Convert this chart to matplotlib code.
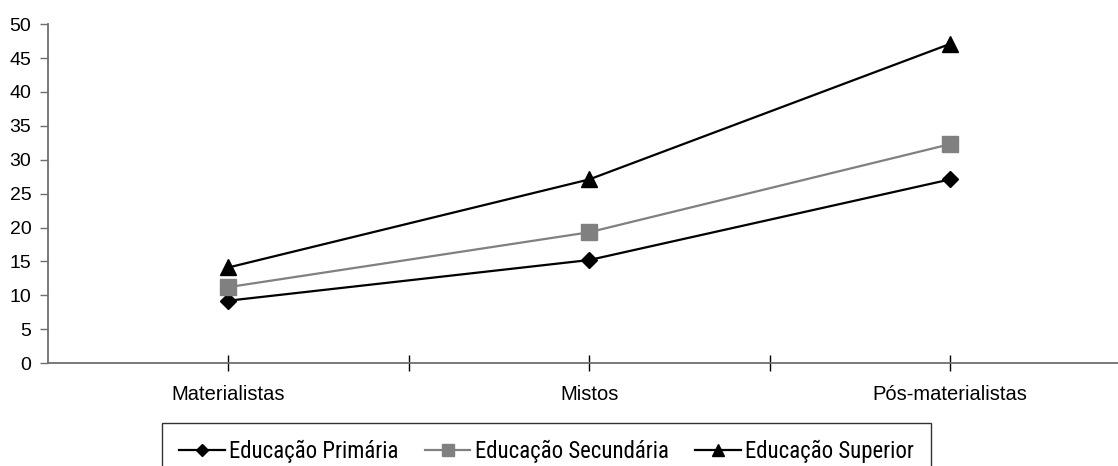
import matplotlib.pyplot as plt
from matplotlib import font_manager

categorias = ["Materialistas", "Mistos", "Pós-materialistas"]
primaria = [9.2, 15.2, 27.1]
secundaria = [11.2, 19.3, 32.3]
superior = [14.1, 27.1, 47.1]

nomes = ["Educação Primária", "Educação Secundária", "Educação Superior"]

fam = "Liberation Sans"
instaladas = {f.name for f in font_manager.fontManager.ttflist}
narrow = next((f for f in ["Roboto Condensed", "Archivo Narrow", "PT Sans Narrow"]
               if f in instaladas), fam)
plt.rcParams["font.family"] = [fam, "DejaVu Sans"]

fig = plt.figure(figsize=(11.18, 4.66), dpi=100)
ax = fig.add_axes([0.0429, 0.221, 0.9571, 0.727])

x = list(range(len(categorias)))
ax.plot(x, primaria, color="black", lw=1.6, marker="D", ms=8.6, label=nomes[0])
ax.plot(x, secundaria, color="#808080", lw=1.6, marker="s", ms=11.5, label=nomes[1])
ax.plot(x, superior, color="black", lw=1.6, marker="^", ms=12, label=nomes[2])

ax.set_ylim(0, 50)
ax.set_yticks(range(0, 51, 5))
ax.set_xlim(-0.5, 2.465)
ax.set_xticks([0, 0.5, 1, 1.5, 2])
ax.set_xticklabels([categorias[0], "", categorias[1], "", categorias[2]])

for s in ["top", "right"]:
    ax.spines[s].set_visible(False)
for s in ["left", "bottom"]:
    ax.spines[s].set_color("#6e6e6e")
    ax.spines[s].set_linewidth(1.3)

ax.tick_params(axis="y", direction="out", length=6, width=1, color="#6e6e6e",
               labelsize=14, pad=6)
ax.tick_params(axis="x", direction="inout", length=11, width=1, color="black",
               labelsize=14.5, pad=10)

leg = fig.legend(loc="upper left", bbox_to_anchor=(162 / 1118, 1 - 423 / 466), ncol=3,
                 frameon=True, fancybox=False, edgecolor="black",
                 prop={"family": [narrow, fam], "size": 16.4}, handlelength=2.0,
                 columnspacing=1.15, handletextpad=0.2, borderpad=0.75,
                 borderaxespad=0, markerscale=0.7)
leg.get_frame().set_linewidth(1.0)

fig.savefig("out.png", dpi=100)
